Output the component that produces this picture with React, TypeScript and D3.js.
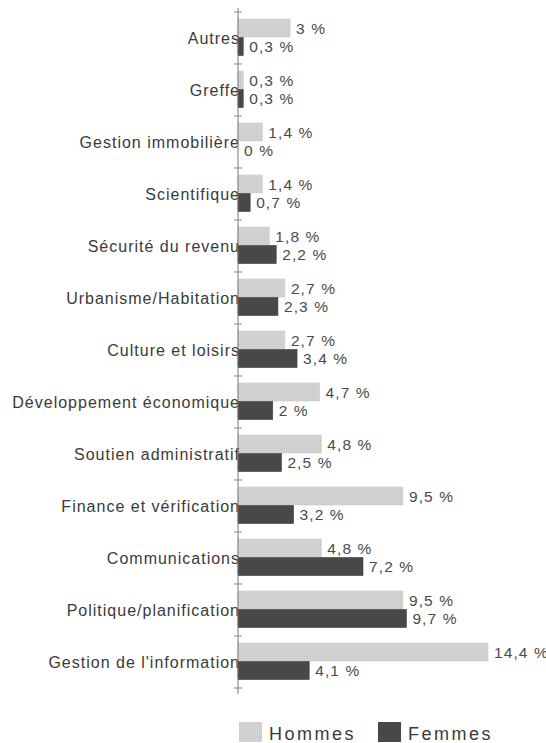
import React, { useRef, useEffect } from 'react';
import * as d3 from 'd3';

const categories = [
  'Autres',
  'Greffe',
  'Gestion immobilière',
  'Scientifique',
  'Sécurité du revenu',
  'Urbanisme/Habitation',
  'Culture et loisirs',
  'Développement économique',
  'Soutien administratif',
  'Finance et vérification',
  'Communications',
  'Politique/planification',
  "Gestion de l'information",
];
const hommes = [3, 0.3, 1.4, 1.4, 1.8, 2.7, 2.7, 4.7, 4.8, 9.5, 4.8, 9.5, 14.4];
const femmes = [0.3, 0.3, 0, 0.7, 2.2, 2.3, 3.4, 2, 2.5, 3.2, 7.2, 9.7, 4.1];
const seriesNames = ['Hommes', 'Femmes'];

const fmt = (v: number) => `${String(v).replace('.', ',')} %`;

const App = () => {
  const ref = useRef<SVGSVGElement>(null);

  useEffect(() => {
    const svg = d3.select(ref.current);
    svg.selectAll('*').remove();

    const axisX = 238;
    const top = 12;
    const bottom = 688;

    const defs = svg.append('defs');
    const pat = defs.append('pattern')
      .attr('id', 'hatch')
      .attr('width', 2).attr('height', 2)
      .attr('patternUnits', 'userSpaceOnUse');
    pat.append('rect').attr('width', 2).attr('height', 2).attr('fill', '#d4d4d4');
    pat.append('rect').attr('width', 1).attr('height', 1).attr('fill', '#c6c6c6');

    const y = d3.scaleBand().domain(categories).range([top, bottom]);
    const x = d3.scaleLinear().domain([0, 14.4]).range([axisX, axisX + 250]);
    const sub = d3.scaleBand().domain(seriesNames).range([7, y.bandwidth() - 8]);

    const colors: Record<string, string> = { Hommes: 'url(#hatch)', Femmes: '#484848' };
    const values: Record<string, number[]> = { Hommes: hommes, Femmes: femmes };

    const g = svg.append('g');

    categories.forEach((c, i) => {
      seriesNames.forEach(s => {
        const v = values[s][i];
        const yy = (y(c) as number) + (sub(s) as number);
        g.append('rect')
          .attr('x', x(0))
          .attr('y', yy)
          .attr('width', x(v) - x(0))
          .attr('height', sub.bandwidth() - 0.5)
          .attr('fill', colors[s])
          .attr('stroke', v > 0 ? (s === 'Hommes' ? '#cdcdcd' : '#3c3c3c') : 'none')
          .attr('stroke-width', 0.6);
        g.append('text')
          .attr('x', x(v) + 6)
          .attr('y', yy + sub.bandwidth() / 2)
          .attr('dy', '0.36em')
          .attr('font-size', 15.5)
          .attr('fill', '#4a4a4a')
          .attr('letter-spacing', 1.1)
          .text(fmt(v));
      });
      g.append('text')
        .attr('x', axisX + 2)
        .attr('y', (y(c) as number) + y.bandwidth() / 2)
        .attr('dy', '0.36em')
        .attr('text-anchor', 'end')
        .attr('font-size', 16)
        .attr('fill', '#3a3a3a')
        .attr('letter-spacing', 1.0)
        .text(c);
    });

    // axis with ticks between bands
    const ax = svg.append('g');
    ax.append('line')
      .attr('x1', axisX).attr('x2', axisX)
      .attr('y1', top - 4).attr('y2', bottom + 6)
      .attr('stroke', '#777').attr('stroke-width', 1);
    const tickYs = categories.map(c => y(c) as number).concat([bottom]);
    ax.selectAll('line.tick')
      .data(tickYs)
      .enter().append('line')
      .attr('class', 'tick')
      .attr('x1', axisX - 4).attr('x2', axisX + 4)
      .attr('y1', d => d).attr('y2', d => d)
      .attr('stroke', '#888').attr('stroke-width', 1);

    // legend
    const leg = svg.append('g').attr('transform', 'translate(239,722)');
    const legX = [0, 139];
    seriesNames.forEach((s, i) => {
      leg.append('rect')
        .attr('x', legX[i]).attr('y', 0)
        .attr('width', 23).attr('height', 20)
        .attr('fill', colors[s]);
      leg.append('text')
        .attr('x', legX[i] + 30).attr('y', 18)
        .attr('font-size', 18)
        .attr('fill', '#3a3a3a')
        .attr('letter-spacing', 2.5)
        .text(s);
    });
  }, []);

  return (
    <svg
      ref={ref}
      width={546}
      height={743}
      style={{ position: 'absolute', left: 0, top: 0, background: '#fff', fontFamily: '"Liberation Sans", Arial, sans-serif' }}
    />
  );
};

export default App;
